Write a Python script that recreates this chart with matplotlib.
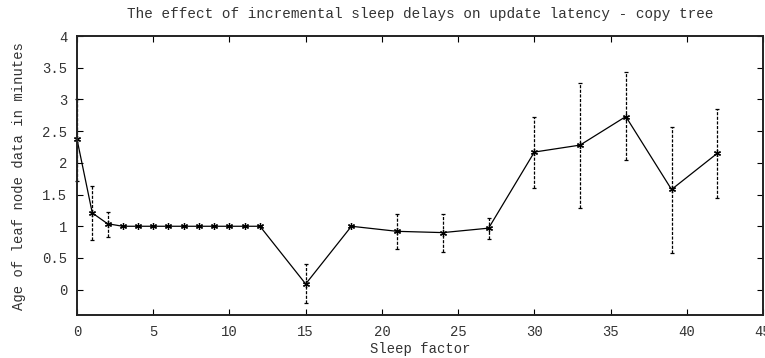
import matplotlib
matplotlib.use("Agg")
import matplotlib.pyplot as plt

# sleep factor vs. age of leaf node data (minutes)
sleep_factor = [0, 1, 2, 3, 4, 5, 6, 7, 8, 9, 10, 11, 12, 15, 18, 21, 24, 27, 30, 33, 36, 39, 42]
age_mean = [2.37, 1.21, 1.04, 1.0, 1.0, 1.0, 1.0, 1.0, 1.0, 1.0, 1.0, 1.0, 1.0,
            0.09, 1.0, 0.92, 0.90, 0.97, 2.17, 2.28, 2.73, 1.58, 2.15]
age_low = [1.72, 0.79, 0.83, 1.0, 1.0, 1.0, 1.0, 1.0, 1.0, 1.0, 1.0, 1.0, 1.0,
           -0.21, 1.0, 0.64, 0.59, 0.80, 1.61, 1.29, 2.04, 0.58, 1.45]
age_high = [3.0, 1.64, 1.23, 1.0, 1.0, 1.0, 1.0, 1.0, 1.0, 1.0, 1.0, 1.0, 1.0,
            0.40, 1.0, 1.20, 1.20, 1.13, 2.72, 3.26, 3.43, 2.57, 2.85]

x_ticks = [0, 5, 10, 15, 20, 25, 30, 35, 40, 45]
y_ticks = [0, 0.5, 1, 1.5, 2, 2.5, 3, 3.5, 4]
y_ticklabels = ["0", "0.5", "1", "1.5", "2", "2.5", "3", "3.5", "4"]


def main():
    plt.rcParams["font.family"] = ["Liberation Mono", "DejaVu Sans Mono"]
    plt.rcParams["font.size"] = 10

    fig = plt.figure(figsize=(7.65, 3.58), dpi=100)
    ax = fig.add_axes([0.1007, 0.120, 0.8967, 0.7794])

    # error bars (dashed, gnuplot style)
    yerr = [[m - lo for m, lo in zip(age_mean, age_low)],
            [hi - m for m, hi in zip(age_mean, age_high)]]
    eb = ax.errorbar(sleep_factor, age_mean, yerr=yerr, fmt="none",
                     ecolor="black", elinewidth=0.9, capsize=1.5, capthick=0.9,
                     clip_on=False)
    for lc in eb[2]:
        lc.set_linestyle((0, (2.5, 1.2)))

    ax.plot(sleep_factor, age_mean, color="black", linewidth=0.9,
            marker=(6, 2, 0), markersize=5, markeredgewidth=0.9, clip_on=False)

    ax.set_xlim(0, 45)
    ax.set_ylim(-0.4, 4)
    ax.set_xticks(x_ticks)
    ax.set_yticks(y_ticks)
    ax.set_yticklabels(y_ticklabels)

    ax.tick_params(direction="in", length=4, width=0.8, top=True, right=True,
                   colors="black", labelcolor="#333333", pad=7)
    for s in ax.spines.values():
        s.set_linewidth(1.4)
        s.set_color("#222222")

    ax.set_title("The effect of incremental sleep delays on update latency - copy tree",
                 fontsize=10.4, color="#333333", pad=13)
    ax.set_xlabel("Sleep factor", color="#333333", labelpad=2)
    ax.set_ylabel("Age of leaf node data in minutes", color="#333333", labelpad=12)

    fig.savefig("out.png", dpi=100)


if __name__ == "__main__":
    main()
